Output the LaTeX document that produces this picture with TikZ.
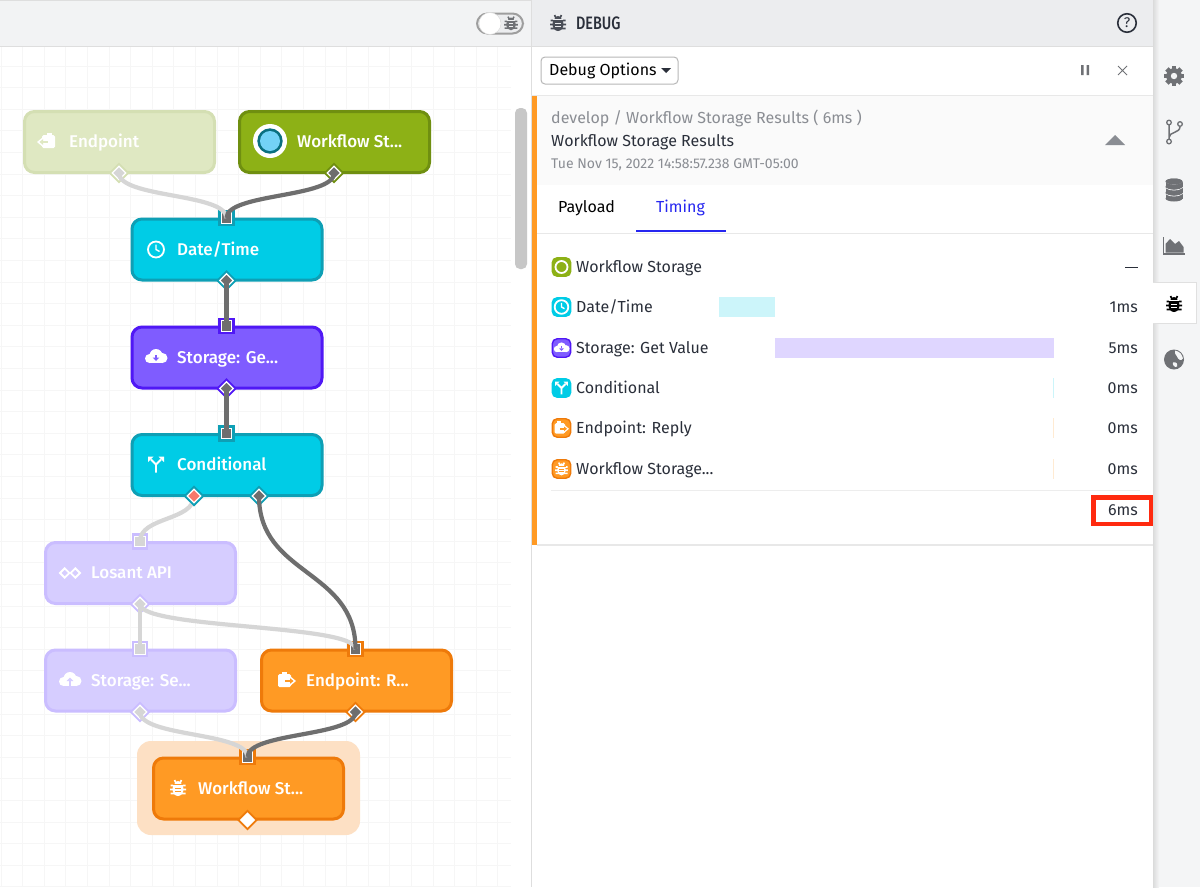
\documentclass[tikz,border=0pt]{standalone}
\usepackage{fontspec}
\setmainfont{Fira Sans}
\newfontfamily\mediumfont{Fira Sans Medium}
\usetikzlibrary{shapes.geometric}

\definecolor{cyanfill}{HTML}{00CCE6}
\definecolor{cyanline}{HTML}{0E9FB5}
\definecolor{purplefill}{HTML}{7F5CFF}
\definecolor{purpleline}{HTML}{5018F5}
\definecolor{orangefill}{HTML}{FF9A24}
\definecolor{orangeline}{HTML}{EE7A0A}
\definecolor{greenfill}{HTML}{8DB116}
\definecolor{greenline}{HTML}{6F8F10}
\definecolor{palegreen}{HTML}{DFE8C2}
\definecolor{palegreenline}{HTML}{D4DFB3}
\definecolor{palepurple}{HTML}{D6CDFF}
\definecolor{palepurpleline}{HTML}{CABDFF}
\definecolor{haloorange}{HTML}{FDE0C4}
\definecolor{wiredark}{HTML}{6E6E6E}
\definecolor{wirepale}{HTML}{D6D6D6}
\definecolor{truered}{HTML}{F7786A}
\definecolor{gridline}{HTML}{F6F6F6}
\definecolor{barpanel}{HTML}{ECEDEF}
\definecolor{sidepanel}{HTML}{F4F5F6}
\definecolor{icongray}{HTML}{6F7175}
\definecolor{textgray}{HTML}{8A8D93}
\definecolor{textdark}{HTML}{2A2F3A}
\definecolor{tabblue}{HTML}{2626F0}
\definecolor{alertred}{HTML}{FF2A0F}

\tikzset{
    flowbox/.style 2 args={rectangle,rounded corners=10pt,minimum width=190pt,minimum height=61pt,
        inner sep=0pt,line width=3pt,draw=#2,fill=#1},
    flowtext/.style={anchor=west,inner sep=0pt,text=white,font=\mediumfont\fontsize{17}{20}\selectfont,
        text height=13pt,text depth=4pt,yshift=-1.2pt},
    inport/.style 2 args={rectangle,minimum size=10.5pt,inner sep=0pt,outer sep=0pt,draw=white,
        line width=1.3pt,fill=#2,preaction={draw=#1,line width=6pt}},
    outport/.style 2 args={diamond,aspect=1,minimum size=13.5pt,inner sep=0pt,outer sep=0pt,draw=white,
        line width=1.3pt,fill=#2,preaction={draw=#1,line width=5pt}},
    wire/.style={draw=wiredark,line width=4.2pt},
    palewire/.style={draw=wirepale,line width=4.2pt},
    rowicon/.style 2 args={rectangle,rounded corners=5pt,minimum size=18.5pt,inner sep=0pt,line width=1.4pt,draw=#2,fill=#1},
    rowtext/.style={anchor=west,inner sep=0pt,text=textdark,font=\fontsize{16}{18}\selectfont,
        text height=12pt,text depth=4pt,yshift=-1.2pt},
    rowvalue/.style={anchor=east,inner sep=0pt,text=textdark,font=\fontsize{16}{18}\selectfont,
        text height=12pt,text depth=4pt,yshift=-1.2pt},
    pics/bugicon/.style 2 args={code={
        \draw[#1,line width=1.6pt] (-7.5,-2.5) -- (7.5,-2.5) (-8,1.5) -- (8,1.5) (-7.5,5.5) -- (7.5,5.5)
            (-3.5,-8) -- (-2,-5) (3.5,-8) -- (2,-5);
        \fill[#1] (0,1.2) ellipse (5.5 and 6.8);
        \fill[#1] (0,-4.2) ellipse (3.4 and 2.8);
        \draw[#2,line width=1pt] (-5,-3.3) -- (5,-3.3) (-2.6,0) -- (2.6,0) (-2.6,3) -- (2.6,3);
    }},
    pics/clockicon/.style={code={
        \draw[#1,line width=1.8pt] (0,0) circle (8);
        \draw[#1,line width=1.4pt] (0,-5) -- (0,0) -- (3.5,2);
    }},
    pics/cloudicon/.style 2 args={code={
        \fill[#1] (-6.5,1.5) circle (4.5) (0,-1.5) circle (6.5) (6.5,1) circle (5);
        \fill[#1] (-6.5,1) rectangle (6.5,6);
        \fill[#2] (-1.2,-2.5) rectangle (1.2,0.5);
        \fill[#2] (-3.4,0.5) -- (3.4,0.5) -- (0,4) -- cycle;
    }},
    pics/clouduicon/.style 2 args={code={
        \fill[#1] (-6.5,1.5) circle (4.5) (0,-1.5) circle (6.5) (6.5,1) circle (5);
        \fill[#1] (-6.5,1) rectangle (6.5,6);
        \fill[#2] (-1.2,6) rectangle (1.2,1);
        \fill[#2] (-3.4,1) -- (3.4,1) -- (0,-2.5) -- cycle;
    }},
    pics/clipicon/.style 2 args={code={
        \fill[#1,rounded corners=1.5pt] (-8,-6) rectangle (5,7);
        \fill[#1] (-4.5,-8.5) rectangle (0.5,-4);
        \fill[#1] (-1,-1.8) rectangle (4,3.8);
        \fill[#1] (4,-4) -- (10,1) -- (4,6) -- cycle;
        \fill[#2] (-1,0) rectangle (4,2);
        \fill[#2] (4,-1.8) -- (7.5,1) -- (4,3.8) -- cycle;
    }},
    pics/spliticon/.style={code={
        \draw[#1,line width=1.8pt] (0,8) -- (0,0) -- (-5,-5) (0,0) -- (5,-5);
        \fill[#1] (-8,-8) -- (-2.5,-8) -- (-8,-2.5) -- cycle (8,-8) -- (2.5,-8) -- (8,-2.5) -- cycle;
    }},
    pics/losanticon/.style={code={
        \draw[#1,line width=1.8pt] (-10,0) -- (-5.3,-4.7) -- (-0.6,0) -- (-5.3,4.7) -- cycle
            (0.6,0) -- (5.3,-4.7) -- (10,0) -- (5.3,4.7) -- cycle;
    }},
    pics/gearicon/.style={code={
        \foreach \a in {0,45,...,315}
            \fill[#1,rotate=\a] (-2.4,-10) rectangle (2.4,0);
        \fill[#1] (0,0) circle (7.8);
        \fill[sidepanel] (0,0) circle (3.2);
    }},
    pics/branchicon/.style={code={
        \draw[#1,line width=1.5pt] (-5,-8) -- (-5,7) (6,-6) .. controls (6,1) and (-5,-1) .. (-5,5);
        \draw[#1,line width=1.3pt,fill=sidepanel] (-5,-10) circle (2.3) (6,-8.5) circle (2.3) (-5,9) circle (2.3);
    }},
    pics/dbicon/.style={code={
        \foreach \h in {6,0,-6}{
            \fill[#1] (0,\h+2.5) ellipse (8.5 and 3);
            \fill[#1] (-8.5,\h-2.5) rectangle (8.5,\h+2.5);
            \fill[#1] (0,\h-2.5) ellipse (8.5 and 3);
            \draw[sidepanel,line width=0.9pt] (-8.5,\h-2.5) .. controls (-5,\h+0.9) and (5,\h+0.9) .. (8.5,\h-2.5);
        }
        \fill[#1] (0,-8.5) ellipse (8.5 and 3);
    }},
    pics/charticon/.style={code={
        \draw[#1,line width=1.2pt] (-10.5,-9) -- (-10.5,8) -- (10.5,8);
        \fill[#1] (-8.5,6.5) -- (-8.5,-2) -- (-4,-7) -- (1,-2) -- (5,-5) -- (9.5,1) -- (9.5,6.5) -- cycle;
    }},
    pics/globeicon/.style={code={
        \fill[#1] (0,0) circle (10);
        \fill[sidepanel] (1,-9) .. controls (6,-8) and (8,-5) .. (9,-1) .. controls (7,2) and (4,0) .. (3,-3) .. controls (2,-5) and (0,-6) .. cycle;
        \fill[sidepanel] (-1,3) .. controls (2,2) and (4,4) .. (3,7) .. controls (1,9) and (-2,5) .. cycle;
    }}
}

\begin{document}
\begin{tikzpicture}[x=1pt,y=-1pt]
    \useasboundingbox (0,0) rectangle (1200,887);
    \fill[white] (0,0) rectangle (1200,887);

    % canvas grid
    \foreach \gx in {1,22.6,...,511}
        \draw[gridline,line width=0.8pt] (\gx,47) -- (\gx,887);
    \foreach \gy in {66,87.6,...,887}
        \draw[gridline,line width=0.8pt] (0,\gy) -- (511,\gy);
    \fill[white] (511,47) rectangle (531,887);
    \fill[black!22,rounded corners=5pt] (515,108) rectangle (527,269);

    % top bars and side panel
    \fill[barpanel!70!white] (0,0) rectangle (531,46);
    \draw[black!13,line width=1pt] (0,46.5) -- (531,46.5) (0,0.5) -- (1153,0.5);
    \fill[barpanel] (531,0) rectangle (1153,46);
    \draw[black!13,line width=1pt] (531,46.5) -- (1153,46.5) (531.5,0) -- (531.5,887);
    \fill[sidepanel] (1153,0) rectangle (1200,887);
    \shade[left color=black!14,right color=sidepanel] (1153,0) rectangle (1159,887);
    \fill[white] (1153,282) rectangle (1196,323);
    \draw[black!12,line width=1pt] (1153,282) -- (1196,282) -- (1196,323) -- (1153,323);

    % toggle
    \node[rectangle,rounded corners=10.5pt,minimum width=46pt,minimum height=20pt,inner sep=0pt,
        draw=black!38,line width=2pt,fill=barpanel] (toggle) at (500,23.5) {};
    \node[circle,minimum size=22pt,inner sep=0pt,fill=white,draw=black!15] (knob) at (490,23.5) {};
    \pic[scale=0.85] at (511,23.5) {bugicon={icongray}{barpanel}};

    % flow nodes
    \fill[haloorange,rounded corners=14pt] (137,741) rectangle (360,835);
    \node[flowbox={palegreen}{palegreenline}] (endpoint) at (119.5,142) {};
    \node[flowbox={greenfill}{greenline}] (storagetrig) at (334.5,142) {};
    \node[flowbox={cyanfill}{cyanline}] (datetime) at (227,249.5) {};
    \node[flowbox={purplefill}{purpleline}] (getvalue) at (227,357.5) {};
    \node[flowbox={cyanfill}{cyanline}] (cond) at (227,465) {};
    \node[flowbox={palepurple}{palepurpleline}] (losant) at (140.5,573) {};
    \node[flowbox={palepurple}{palepurpleline}] (setvalue) at (140.5,680.5) {};
    \node[flowbox={orangefill}{orangeline}] (reply) at (356.5,680.5) {};
    \node[flowbox={orangefill}{orangeline}] (debugnode) at (248.5,788.5) {};

    \node[flowtext] (endpointtext) at (69,142) {Endpoint};
    \node[flowtext] (storagetrigtext) at (297,142) {Workflow St...};
    \node[flowtext] (datetimetext) at (177,250) {Date/Time};
    \node[flowtext] (getvaluetext) at (177,357.5) {Storage: Ge...};
    \node[flowtext] (condtext) at (177,465) {Conditional};
    \node[flowtext] (losanttext) at (91,573) {Losant API};
    \node[flowtext] (setvaluetext) at (91,680.5) {Storage: Se...};
    \node[flowtext] (replytext) at (306,680.5) {Endpoint: R...};
    \node[flowtext] (debugnodetext) at (198,788.5) {Workflow St...};

    \pic[xscale=-1] at (47,141) {clipicon={white}{palegreen}};
    \fill[white] (270,141) circle (17);
    \fill[cyanline!70!black] (270,141) circle (12.7);
    \fill[cyan!55!white] (270,141) circle (10);
    \pic at (156,249.5) {clockicon=white};
    \pic at (156,357) {cloudicon={white}{purplefill}};
    \pic at (156,464.5) {spliticon=white};
    \pic at (70,573) {losanticon=white};
    \pic at (70,680) {clouduicon={white}{palepurple}};
    \pic at (286,680) {clipicon={white}{orangefill}};
    \pic at (178,788) {bugicon={white}{orangefill}};

    % ports
    \node[inport={cyanline}{wiredark}] (datetimein) at (226.5,218) {};
    \node[inport={purpleline}{wiredark}] (getvaluein) at (226.5,326) {};
    \node[inport={cyanline}{wiredark}] (condin) at (226.5,433.5) {};
    \node[inport={palepurpleline}{wirepale}] (losantin) at (140,541.5) {};
    \node[inport={palepurpleline}{wirepale}] (setvaluein) at (140,649) {};
    \node[inport={orangeline}{wiredark}] (replyin) at (355.5,649) {};
    \node[inport={orangeline}{wiredark}] (debugin) at (247.5,757) {};

    \node[outport={palegreenline}{wirepale}] (endpointout) at (119,173) {};
    \node[outport={greenline}{wiredark}] (storagetrigout) at (334,173) {};
    \node[outport={cyanline}{wiredark}] (datetimeout) at (226.5,280.5) {};
    \node[outport={purpleline}{wiredark}] (getvalueout) at (226.5,388.5) {};
    \node[outport={cyanline}{truered}] (condtrue) at (194,496) {};
    \node[outport={cyanline}{wiredark}] (condfalse) at (259,496) {};
    \node[outport={palepurpleline}{wirepale}] (losantout) at (140,604) {};
    \node[outport={palepurpleline}{wirepale}] (setvalueout) at (140,712) {};
    \node[outport={orangeline}{wiredark}] (replyout) at (355.5,712) {};
    \node[outport={orangeline}{white}] (debugout) at (247.5,820) {};

    % wires
    \draw[palewire] (endpointout.center) .. controls +(0,25) and +(0,-25) .. (datetimein.center);
    \draw[palewire] (condtrue.center) .. controls +(0,25) and +(0,-25) .. (losantin.center);
    \draw[palewire] (losantout.center) -- (setvaluein.center);
    \draw[palewire] (losantout.center) .. controls +(0,25) and +(0,-25) .. (replyin.center);
    \draw[palewire] (setvalueout.center) .. controls +(0,25) and +(0,-25) .. (debugin.center);
    \draw[wire] (storagetrigout.center) .. controls +(0,25) and +(0,-25) .. (datetimein.center);
    \draw[wire] (datetimeout.center) -- (getvaluein.center);
    \draw[wire] (getvalueout.center) -- (condin.center);
    \draw[wire] (condfalse.center) .. controls +(0,80) and +(0,-80) .. (replyin.center);
    \draw[wire] (replyout.center) .. controls +(0,25) and +(0,-25) .. (debugin.center);
    \node[outport={cyanline}{truered}] (condtruetop) at (condtrue) {};

    % debug header
    \pic at (558,23) {bugicon={textdark!85!white}{barpanel}};
    \node[anchor=west,inner sep=0pt,text=textdark,xscale=0.8,font=\mediumfont\fontsize{18}{20}\selectfont] (debugtitle) at (576,23) {DEBUG};
    \node[circle,draw=textdark,line width=1.6pt,minimum size=18.5pt,inner sep=0pt,
        font=\fontsize{14}{15}\selectfont,text=textdark] (helpicon) at (1127,23) {?};

    \node[rectangle,rounded corners=4pt,draw=black!28,line width=1pt,minimum width=137pt,minimum height=27pt,inner sep=0pt] (optbox) at (609.5,70.5) {};
    \node[rowtext,text=black] (opttext) at (549,70) {Debug Options};
    \fill[textdark] (661,68) -- (671,68) -- (666,73) -- cycle;
    \fill[icongray] (1081,65) rectangle (1083.5,75) (1086.5,65) rectangle (1089,75);
    \draw[icongray,line width=1pt] (1118,66) -- (1127,75) (1127,66) -- (1118,75);

    % event panel
    \fill[black!2] (537,96) rectangle (1153,185);
    \draw[black!9,line width=1pt] (531,95.5) -- (1153,95.5);
    \node[rowtext,text=textgray] (pathtext) at (551,118) {develop / Workflow Storage Results ( 6ms )};
    \node[rowtext] (eventtext) at (551,141) {Workflow Storage Results};
    \node[rowtext,text=textgray,font=\fontsize{14}{16}\selectfont] (timetext) at (551,163) {Tue Nov 15, 2022 14:58:57.238 GMT-05:00};
    \fill[textgray] (1105,145) -- (1125,145) -- (1115,135) -- cycle;
    \node[rowtext,text=black] (payloadtab) at (558,207) {Payload};
    \node[rowtext,text=tabblue] (timingtab) at (656,207) {Timing};
    \fill[tabblue] (636,230) rectangle (726,232);
    \draw[black!9,line width=1pt] (537,233) -- (1153,233);

    % timing rows
    \node[rowicon={greenfill}{greenfill}] (rowone) at (561.5,267) {};
    \draw[white,line width=1.8pt] (561.5,267) circle (6);
    \node[rowtext] (rowonetext) at (576,267) {Workflow Storage};
    \draw[textdark,line width=1.2pt] (1125,267.5) -- (1138,267.5);

    \node[rowicon={cyanfill}{cyanfill}] (rowtwo) at (561.5,307) {};
    \pic[scale=0.85] at (561.5,307) {clockicon=white};
    \node[rowtext] (rowtwotext) at (576,307) {Date/Time};
    \fill[cyanfill!20!white] (719,297) rectangle (775,317);
    \node[rowvalue] (rowtwovalue) at (1138,307) {1ms};

    \node[rowicon={purplefill}{purpleline}] (rowthree) at (561.5,348) {};
    \pic[scale=0.7] at (561.5,348) {cloudicon={white}{purplefill}};
    \node[rowtext] (rowthreetext) at (576,348) {Storage: Get Value};
    \fill[purplefill!25!white] (775,338) rectangle (1054,358);
    \node[rowvalue] (rowthreevalue) at (1138,348) {5ms};

    \node[rowicon={cyanfill}{cyanfill}] (rowfour) at (561.5,388) {};
    \pic[scale=0.8] at (561.5,388) {spliticon=white};
    \node[rowtext] (rowfourtext) at (576,388) {Conditional};
    \fill[cyanfill!20!white] (1052.5,378) rectangle (1054,398);
    \node[rowvalue] (rowfourvalue) at (1138,388) {0ms};

    \node[rowicon={orangefill}{orangeline}] (rowfive) at (561.5,428) {};
    \pic[scale=0.8] at (561,428) {clipicon={white}{orangefill}};
    \node[rowtext] (rowfivetext) at (576,428) {Endpoint: Reply};
    \fill[orangefill!20!white] (1052.5,418) rectangle (1054,438);
    \node[rowvalue] (rowfivevalue) at (1138,428) {0ms};

    \node[rowicon={orangefill}{orangeline}] (rowsix) at (561.5,469) {};
    \pic[scale=0.8] at (561.5,469) {bugicon={white}{orangefill}};
    \node[rowtext] (rowsixtext) at (576,469) {Workflow Storage...};
    \fill[orangefill!20!white] (1052.5,459) rectangle (1054,479);
    \node[rowvalue] (rowsixvalue) at (1138,469) {0ms};

    \draw[black!7,line width=1pt] (551,490) -- (1140,490);
    \node[rowvalue] (totalvalue) at (1138,510.5) {6ms};
    \node[rectangle,draw=alertred,line width=4.5pt,minimum width=57.5pt,minimum height=26.5pt,inner sep=0pt] (totalbox) at (1122,510.5) {};

    \draw[black!9,line width=2pt] (537,545) -- (1153,545);
    \fill[orangefill] (532,96) rectangle (537,545);

    % side icons
    \pic at (1174,76) {gearicon=icongray};
    \pic at (1174,132.5) {branchicon=icongray};
    \pic at (1174,190) {dbicon=icongray};
    \pic at (1174,246) {charticon=icongray};
    \pic at (1174,304) {bugicon={black}{white}};
    \pic at (1174,359.5) {globeicon=icongray};
\end{tikzpicture}
\end{document}
